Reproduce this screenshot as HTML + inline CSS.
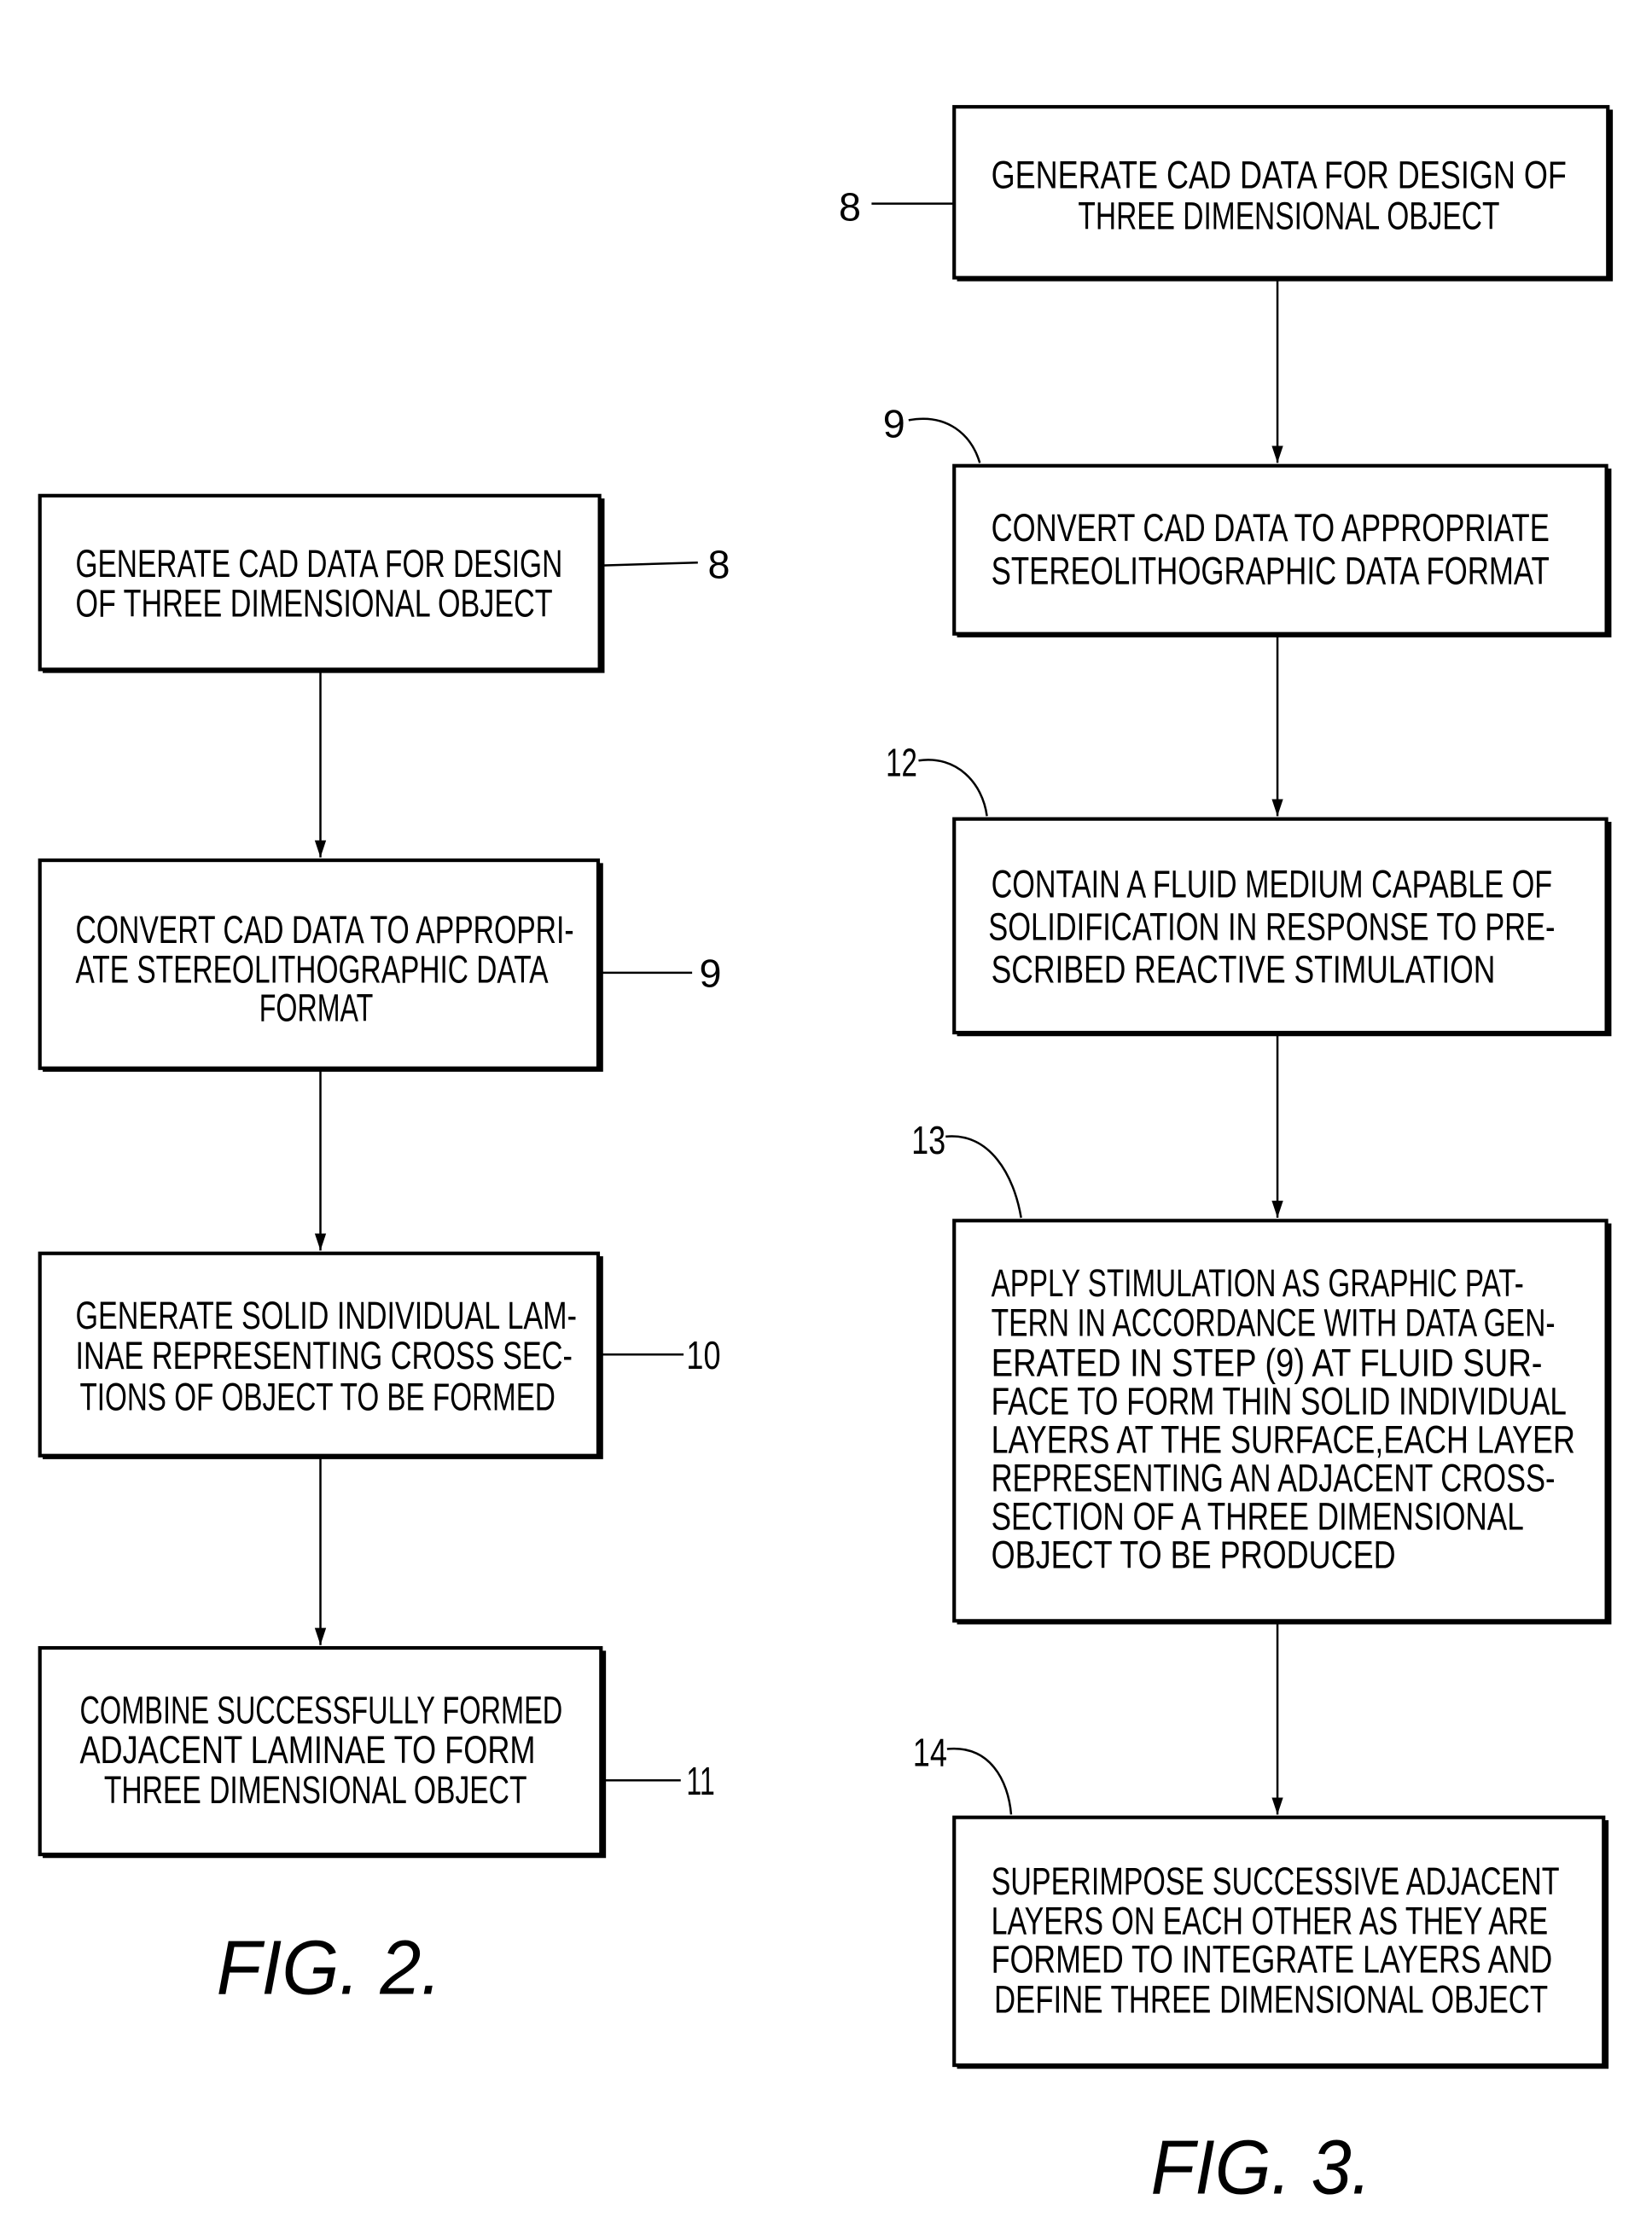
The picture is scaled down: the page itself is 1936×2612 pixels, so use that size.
<!DOCTYPE html>
<html><head><meta charset="utf-8"><style>html,body{margin:0;padding:0;background:#fff}svg{display:block}</style></head>
<body>
<svg width="1936" height="2612" viewBox="0 0 1160 1565" preserveAspectRatio="none" xmlns="http://www.w3.org/2000/svg">
<defs><marker id="a" markerWidth="14" markerHeight="12" refX="12" refY="5" orient="auto" markerUnits="userSpaceOnUse"><path d="M0,1 L12,5 L0,9 Z" fill="#000"/></marker></defs>
<g fill="none" stroke="#000" stroke-width="2.5">
<rect x="28" y="348" width="393" height="122"/><path d="M30,471 H423 V350" stroke-width="3"/>
<rect x="28" y="604" width="392" height="146"/><path d="M30,751 H422 V606" stroke-width="3"/>
<rect x="28" y="880" width="392" height="142"/><path d="M30,1023 H422 V882" stroke-width="3"/>
<rect x="28" y="1157" width="394" height="145"/><path d="M30,1303 H424 V1159" stroke-width="3"/>
<rect x="670" y="75" width="459" height="120"/><path d="M672,196 H1131 V77" stroke-width="3"/>
<rect x="670" y="327" width="458" height="118"/><path d="M672,446 H1130 V329" stroke-width="3"/>
<rect x="670" y="575" width="458" height="150"/><path d="M672,726 H1130 V577" stroke-width="3"/>
<rect x="670" y="857" width="458" height="281"/><path d="M672,1139 H1130 V859" stroke-width="3"/>
<rect x="670" y="1276" width="456" height="174"/><path d="M672,1451 H1128 V1278" stroke-width="3"/>
</g>
<g stroke="#000" stroke-width="1.5" fill="none">
<line x1="225" y1="472" x2="225" y2="602" marker-end="url(#a)"/>
<line x1="225" y1="752" x2="225" y2="878" marker-end="url(#a)"/>
<line x1="225" y1="1024" x2="225" y2="1155" marker-end="url(#a)"/>
<line x1="897" y1="197" x2="897" y2="325" marker-end="url(#a)"/>
<line x1="897" y1="447" x2="897" y2="573" marker-end="url(#a)"/>
<line x1="897" y1="727" x2="897" y2="855" marker-end="url(#a)"/>
<line x1="897" y1="1140" x2="897" y2="1274" marker-end="url(#a)"/>
<line x1="423" y1="397" x2="490" y2="395"/>
<line x1="421" y1="683" x2="486" y2="683"/>
<line x1="421" y1="951" x2="480" y2="951"/>
<line x1="423" y1="1250" x2="478" y2="1250"/>
<line x1="612" y1="143" x2="670" y2="143"/>
<path d="M638,295 C665,290 682,305 688,325"/>
<path d="M645,534 C672,530 690,550 693,573"/>
<path d="M664,798 C695,795 712,825 717,855"/>
<path d="M665,1228 C695,1225 708,1250 710,1274"/>
</g>
<g font-family="Liberation Sans, sans-serif" font-size="27" fill="#000">
<text x="53" y="405" textLength="342" lengthAdjust="spacingAndGlyphs">GENERATE CAD DATA FOR DESIGN</text>
<text x="53" y="433" textLength="335" lengthAdjust="spacingAndGlyphs">OF THREE DIMENSIONAL OBJECT</text>
<text x="53" y="662" textLength="350" lengthAdjust="spacingAndGlyphs">CONVERT CAD DATA TO APPROPRI-</text>
<text x="53" y="690" textLength="332" lengthAdjust="spacingAndGlyphs">ATE STEREOLITHOGRAPHIC DATA</text>
<text x="182" y="717" textLength="80" lengthAdjust="spacingAndGlyphs">FORMAT</text>
<text x="53" y="933" textLength="352" lengthAdjust="spacingAndGlyphs">GENERATE SOLID INDIVIDUAL LAM-</text>
<text x="53" y="961" textLength="349" lengthAdjust="spacingAndGlyphs">INAE REPRESENTING CROSS SEC-</text>
<text x="56" y="990" textLength="334" lengthAdjust="spacingAndGlyphs">TIONS OF OBJECT TO BE FORMED</text>
<text x="56" y="1210" textLength="339" lengthAdjust="spacingAndGlyphs">COMBINE SUCCESSFULLY FORMED</text>
<text x="56" y="1238" textLength="320" lengthAdjust="spacingAndGlyphs">ADJACENT LAMINAE TO FORM</text>
<text x="73" y="1266" textLength="297" lengthAdjust="spacingAndGlyphs">THREE DIMENSIONAL OBJECT</text>
<text x="696" y="132" textLength="404" lengthAdjust="spacingAndGlyphs">GENERATE CAD DATA FOR DESIGN OF</text>
<text x="757" y="161" textLength="296" lengthAdjust="spacingAndGlyphs">THREE DIMENSIONAL OBJECT</text>
<text x="696" y="380" textLength="392" lengthAdjust="spacingAndGlyphs">CONVERT CAD DATA TO APPROPRIATE</text>
<text x="696" y="410" textLength="392" lengthAdjust="spacingAndGlyphs">STEREOLITHOGRAPHIC DATA FORMAT</text>
<text x="696" y="630" textLength="394" lengthAdjust="spacingAndGlyphs">CONTAIN A FLUID MEDIUM CAPABLE OF</text>
<text x="694" y="660" textLength="398" lengthAdjust="spacingAndGlyphs">SOLIDIFICATION IN RESPONSE TO PRE-</text>
<text x="696" y="690" textLength="354" lengthAdjust="spacingAndGlyphs">SCRIBED REACTIVE STIMULATION</text>
<text x="696" y="910" textLength="374" lengthAdjust="spacingAndGlyphs">APPLY STIMULATION AS GRAPHIC PAT-</text>
<text x="696" y="938" textLength="396" lengthAdjust="spacingAndGlyphs">TERN IN ACCORDANCE WITH DATA GEN-</text>
<text x="696" y="966" textLength="387" lengthAdjust="spacingAndGlyphs">ERATED IN STEP (9) AT FLUID SUR-</text>
<text x="696" y="993" textLength="404" lengthAdjust="spacingAndGlyphs">FACE TO FORM THIN SOLID INDIVIDUAL</text>
<text x="696" y="1020" textLength="410" lengthAdjust="spacingAndGlyphs">LAYERS AT THE SURFACE,EACH LAYER</text>
<text x="696" y="1047" textLength="396" lengthAdjust="spacingAndGlyphs">REPRESENTING AN ADJACENT CROSS-</text>
<text x="696" y="1074" textLength="374" lengthAdjust="spacingAndGlyphs">SECTION OF A THREE DIMENSIONAL</text>
<text x="696" y="1101" textLength="284" lengthAdjust="spacingAndGlyphs">OBJECT TO BE PRODUCED</text>
<text x="696" y="1330" textLength="399" lengthAdjust="spacingAndGlyphs">SUPERIMPOSE SUCCESSIVE ADJACENT</text>
<text x="696" y="1358" textLength="391" lengthAdjust="spacingAndGlyphs">LAYERS ON EACH OTHER AS THEY ARE</text>
<text x="696" y="1385" textLength="394" lengthAdjust="spacingAndGlyphs">FORMED TO INTEGRATE LAYERS AND</text>
<text x="698" y="1413" textLength="389" lengthAdjust="spacingAndGlyphs">DEFINE THREE DIMENSIONAL OBJECT</text>
<text x="497" y="406" font-size="28">8</text>
<text x="491" y="693" font-size="28">9</text>
<text x="482" y="961" font-size="28" textLength="24" lengthAdjust="spacingAndGlyphs">10</text>
<text x="482" y="1260" font-size="28" textLength="20" lengthAdjust="spacingAndGlyphs">11</text>
<text x="589" y="155" font-size="28">8</text>
<text x="620" y="307" font-size="28">9</text>
<text x="622" y="545" font-size="28" textLength="22" lengthAdjust="spacingAndGlyphs">12</text>
<text x="640" y="810" font-size="28" textLength="24" lengthAdjust="spacingAndGlyphs">13</text>
<text x="641" y="1240" font-size="28" textLength="24" lengthAdjust="spacingAndGlyphs">14</text>
<text x="152" y="1400" font-size="54" font-style="italic" textLength="158" lengthAdjust="spacingAndGlyphs">FIG. 2.</text>
<text x="808" y="1540" font-size="54" font-style="italic" textLength="155" lengthAdjust="spacingAndGlyphs">FIG. 3.</text>
</g>
</svg>
</body></html>
